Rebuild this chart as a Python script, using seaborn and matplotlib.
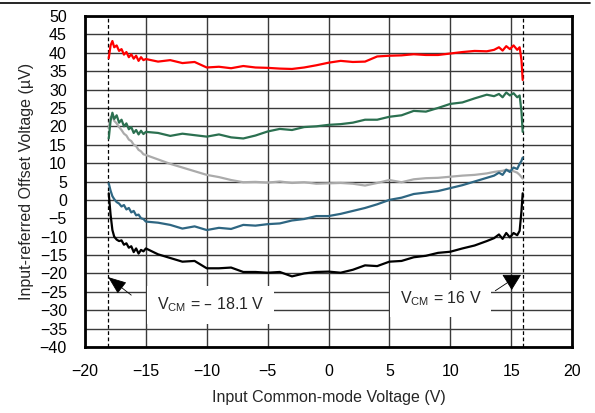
import matplotlib
matplotlib.use("Agg")
import matplotlib.pyplot as plt
import seaborn as sns
import pandas as pd
from matplotlib.lines import Line2D

# ---- data ----
vcm = [-18.05, -17.9, -17.75, -17.6, -17.4, -17.2, -17.0, -16.8, -16.6, -16.4,
       -16.2, -16.0, -15.8, -15.6, -15.4, -15.2, -15.0,
       -14, -13, -12, -11, -10, -9, -8, -7, -6, -5, -4, -3, -2, -1,
       0, 1, 2, 3, 4, 5, 6, 7, 8, 9, 10, 11, 12, 13,
       13.6, 14.0, 14.3, 14.6, 14.9, 15.2, 15.5, 15.7, 15.85, 15.95]

red = [38.5, 42.0, 43.2, 41.5, 42.0, 40.5, 41.0, 39.5, 40.2, 38.8,
       39.6, 38.4, 39.2, 37.8, 38.8, 38.0, 38.3,
       37.6, 38.0, 37.2, 37.5, 36.0, 36.2, 35.8, 36.4, 36.0, 35.9, 35.7, 35.6, 36.0, 36.6,
       37.3, 37.8, 37.5, 37.6, 39.0, 39.2, 39.3, 39.6, 39.4, 39.4, 39.8, 40.2, 40.5, 40.4,
       40.8, 41.5, 40.6, 41.8, 41.0, 42.0, 40.8, 41.5, 38.0, 32.6]

green = [16.7, 21.5, 23.7, 22.0, 23.0, 21.0, 21.8, 20.0, 20.8, 19.2,
         19.8, 18.2, 19.0, 17.8, 18.8, 17.9, 18.5,
         18.2, 17.4, 18.0, 17.6, 17.2, 17.8, 17.0, 16.7, 17.5, 18.6, 19.3, 19.0, 19.8, 20.0,
         20.4, 20.6, 21.0, 21.8, 21.8, 22.6, 23.0, 24.2, 24.0, 25.0, 26.1, 26.5, 27.6, 28.6,
         28.2, 28.8, 27.9, 29.2, 28.4, 29.0, 27.9, 28.4, 24.0, 18.5]

gray = [19.5, 22.5, 22.8, 21.5, 20.8, 19.8, 19.0, 18.0, 17.5, 16.4,
        16.0, 15.0, 14.6, 13.6, 13.2, 12.4, 12.2,
        11.0, 9.8, 8.8, 7.8, 6.8, 6.2, 5.4, 4.8, 4.9, 4.7, 5.0, 4.6, 4.8, 4.4,
        4.5, 4.6, 4.4, 3.9, 4.6, 5.4, 4.8, 5.6, 5.9, 6.0, 6.3, 6.6, 6.8, 7.2,
        7.6, 7.8, 7.9, 8.2, 8.0, 7.8, 7.4, 6.8, 6.2, 5.8]

blue = [4.5, 2.5, 1.0, 0.2, -0.6, -1.0, -1.8, -1.4, -2.6, -2.2,
        -3.4, -3.0, -4.2, -4.0, -5.0, -5.2, -5.9,
        -6.2, -6.8, -7.8, -7.2, -8.2, -7.6, -7.9, -6.8, -7.0, -6.6, -6.4, -5.6, -5.2, -4.4,
        -4.4, -3.8, -3.0, -2.2, -1.2, 0.0, 0.6, 1.6, 2.0, 2.4, 3.2, 4.0, 5.0, 6.0,
        6.6, 7.4, 6.8, 8.2, 7.6, 8.8, 8.4, 9.8, 10.6, 11.5]

black = [1.8, -4.0, -8.2, -10.0, -10.8, -11.2, -11.0, -12.2, -11.8, -13.0,
         -12.6, -14.2, -13.2, -14.6, -13.6, -14.0, -13.2,
         -14.8, -15.8, -16.8, -16.6, -18.6, -18.6, -18.4, -19.6, -19.6, -19.8, -19.6, -20.8, -20.0, -19.6,
         -19.5, -19.8, -19.0, -17.8, -18.0, -16.8, -16.6, -15.6, -15.2, -14.4, -14.1, -13.2, -12.4, -11.2,
         -10.4, -9.4, -10.6, -9.0, -10.2, -9.0, -9.6, -8.4, -3.0, 1.8]

series = {"gray": gray, "red": red, "green": green, "blue": blue, "black": black}
colors = {"gray": "#ababab", "red": "#ff0000", "green": "#2b7050",
          "blue": "#2e6682", "black": "#000000"}

x_ticks = [-20, -15, -10, -5, 0, 5, 10, 15, 20]
y_ticks = list(range(-40, 51, 5))
vcm_limits = [-18.1, 16]
x_label = "Input Common-mode Voltage (V)"
y_label = "Input-referred Offset Voltage (µV)"
label_low = "V$_{\\mathregular{CM}}$ = \u2013 18.1 V"
label_high = "V$_{\\mathregular{CM}}$ = 16 V"

rows = []
for name, vals in series.items():
    for xv, yv in zip(vcm, vals):
        rows.append({"vcm": xv, "vos": yv, "series": name})
df = pd.DataFrame(rows)

# ---- drawing ----
sns.set_style("white")
plt.rcParams["font.family"] = ["Liberation Sans", "DejaVu Sans"]

fig = plt.figure(figsize=(5.95, 4.13), dpi=100)
ax = fig.add_axes([85 / 595, 1 - 347 / 413, (572 - 85) / 595, (347 - 16) / 413])

sns.lineplot(data=df, x="vcm", y="vos", hue="series", palette=colors,
             hue_order=list(series.keys()), estimator=None, sort=False,
             linewidth=1.6, legend=False, ax=ax, zorder=3)

ax.set_xlim(-20, 20)
ax.set_ylim(-40, 50)
ax.set_xticks(x_ticks)
ax.set_yticks(y_ticks)
ax.set_xticklabels([str(t).replace("-", "\u2212") for t in x_ticks])
ax.set_yticklabels([str(t).replace("-", "\u2212") for t in y_ticks])
ax.tick_params(axis="both", length=0, labelsize=11.5, colors="black")
ax.tick_params(axis="y", pad=13)
ax.tick_params(axis="x", pad=12)
ax.grid(True, color="#3a3a3a", linewidth=1.0, zorder=0)
ax.set_axisbelow(True)
for sp in ax.spines.values():
    sp.set_color("black")
    sp.set_linewidth(2.0)

ax.set_xlabel(x_label, fontsize=11.5, labelpad=8)
ax.set_ylabel(y_label, fontsize=11.5, labelpad=4)

for v in vcm_limits:
    ax.axvline(v, color="black", linestyle=(0, (3, 2)), linewidth=0.9, zorder=2)

bbox = dict(boxstyle="square,pad=0.6", fc="white", ec="none")
ax.text(-9.7, -28.6, label_low, ha="center", va="center", fontsize=11.5,
        bbox=bbox, zorder=5)
ax.text(9.2, -26.8, label_high, ha="center", va="center", fontsize=11.5,
        bbox=bbox, zorder=5)

# arrow toward the -18.1 V limit
ax.annotate("", xy=(-18.1, -21.0), xytext=(-16.2, -25.9), zorder=6,
            arrowprops=dict(arrowstyle="-|>,head_length=1.15,head_width=0.45",
                            color="black", lw=0.6, shrinkA=0, shrinkB=0,
                            mutation_scale=10))
# arrow toward the 16 V limit: leader line plus a downward head
ax.annotate("", xy=(14.75, -22.4), xytext=(13.7, -24.7), zorder=6,
            arrowprops=dict(arrowstyle="-", color="black", lw=0.6,
                            shrinkA=0, shrinkB=0))
ax.annotate("", xy=(15.05, -24.5), xytext=(15.05, -20.6), zorder=6,
            arrowprops=dict(arrowstyle="-|>,head_length=1.0,head_width=0.62",
                            color="black", lw=0.6, shrinkA=0, shrinkB=0,
                            mutation_scale=10))

fig.add_artist(Line2D([0, 590 / 595], [1 - 3 / 413, 1 - 3 / 413],
                      transform=fig.transFigure, color="black", linewidth=1.2))

fig.savefig("out.png", dpi=100, facecolor="white")
